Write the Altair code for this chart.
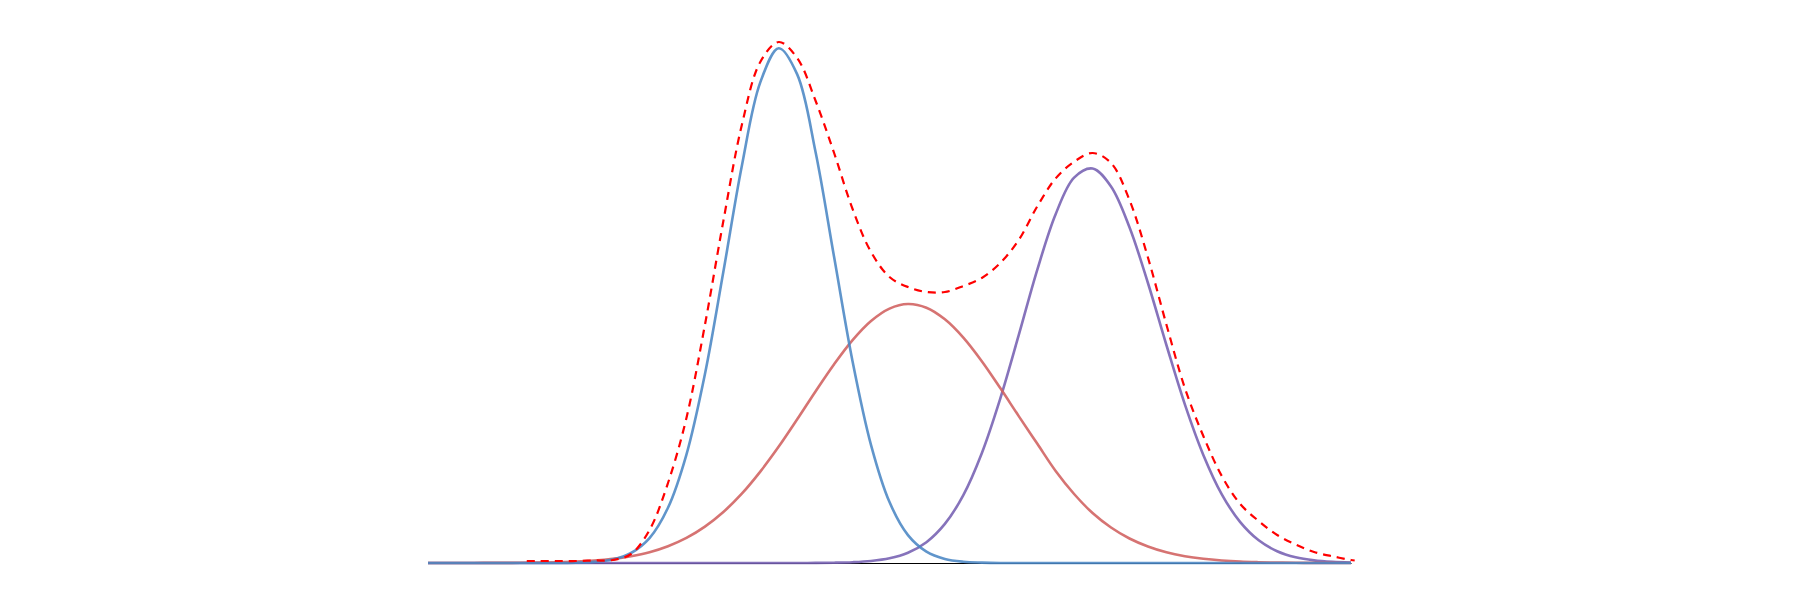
import altair as alt
import pandas as pd

# x positions shared by the three component curves
x_grid = [0.0, 0.2, 0.4, 0.6, 0.8, 1.0, 1.2, 1.4, 1.6, 1.8,
          2.0, 2.2, 2.4, 2.6, 2.8, 3.0, 3.2, 3.4, 3.6, 3.8,
          4.0, 4.2, 4.4, 4.6, 4.8, 5.0, 5.2, 5.4, 5.6, 5.8,
          6.0, 6.2, 6.4, 6.6, 6.8, 7.0, 7.2, 7.4, 7.6, 7.8,
          8.0, 8.2, 8.4, 8.6, 8.8, 9.0, 9.2, 9.4, 9.6, 9.8, 10.0]

blue = [0, 0, 0, 0, 0, 0, 0, 0, 0.003, 0.011,
        0.035, 0.100, 0.249, 0.552, 1.084, 1.887, 2.912, 3.971, 4.806, 5.148,
        4.886, 4.105, 3.059, 2.015, 1.179, 0.609, 0.279, 0.114, 0.041, 0.013,
        0.004, 0, 0, 0, 0, 0, 0, 0, 0, 0,
        0, 0, 0, 0, 0, 0, 0, 0, 0, 0, 0]

red = [0.000, 0.000, 0.000, 0.001, 0.001, 0.002, 0.004, 0.008, 0.014, 0.024,
       0.041, 0.068, 0.108, 0.168, 0.251, 0.364, 0.510, 0.693, 0.914, 1.164,
       1.437, 1.718, 1.988, 2.229, 2.420, 2.544, 2.590, 2.553, 2.437, 2.254,
       2.018, 1.749, 1.469, 1.194, 0.920, 0.690, 0.500, 0.355, 0.245, 0.165,
       0.107, 0.068, 0.042, 0.025, 0.014, 0.008, 0.004, 0.002, 0.001, 0.001, 0.000]

purple = [0, 0, 0, 0, 0, 0, 0, 0, 0, 0,
          0, 0, 0, 0, 0, 0, 0, 0, 0, 0,
          0.000, 0.001, 0.003, 0.008, 0.020, 0.047, 0.103, 0.208, 0.391, 0.679,
          1.098, 1.644, 2.278, 2.929, 3.488, 3.854, 3.945, 3.765, 3.357, 2.800,
          2.180, 1.586, 1.081, 0.687, 0.409, 0.227, 0.118, 0.057, 0.026, 0.011, 0.004]

# dashed overall curve
x_total = [1.07, 1.2, 1.4, 1.6, 1.8,
           2.0, 2.2, 2.4, 2.6, 2.8, 3.0, 3.2, 3.4, 3.6, 3.8,
           4.0, 4.2, 4.4, 4.6, 4.8, 5.0, 5.2, 5.4, 5.6, 5.8,
           6.0, 6.2, 6.4, 6.6, 6.8, 7.0, 7.2, 7.4, 7.6, 7.8,
           8.0, 8.2, 8.4, 8.6, 8.8, 9.0, 9.2, 9.4, 9.6, 9.8, 10.0, 10.04]

total = [0.02, 0.02, 0.02, 0.02, 0.025,
         0.03, 0.09, 0.33, 0.80, 1.45, 2.38, 3.42, 4.38, 5.01, 5.21,
         5.05, 4.62, 4.10, 3.54, 3.11, 2.86, 2.76, 2.71, 2.71, 2.77,
         2.85, 3.00, 3.23, 3.565, 3.846, 4.013, 4.10, 4.00, 3.63, 3.055,
         2.385, 1.75, 1.27, 0.87, 0.59, 0.42, 0.28, 0.185, 0.11, 0.067, 0.03, 0.025]

x_scale = alt.Scale(domain=[0, 10], nice=False, zero=False)
y_scale = alt.Scale(domain=[0, 5.5], nice=False)
x_axis = alt.Axis(labels=False, ticks=False, grid=False, title=None,
                  domainColor="black", domainWidth=1)


def line(xs, ys, color, width, opacity, dash=None):
    df = pd.DataFrame({"x": xs, "y": ys})
    kw = dict(color=color, strokeWidth=width, opacity=opacity, interpolate="catmull-rom")
    if dash is not None:
        kw["strokeDash"] = dash
    return alt.Chart(df).mark_line(**kw).encode(
        x=alt.X("x:Q", scale=x_scale, axis=x_axis),
        y=alt.Y("y:Q", scale=y_scale, axis=None),
    )


chart = alt.layer(
    line(x_grid, purple, "#7560b2", 2.6, 0.88),
    line(x_grid, red, "#d0605f", 2.6, 0.88),
    line(x_grid, blue, "#4a86c4", 2.6, 0.88),
    line(x_total, total, "#ff0000", 2.2, 1.0, dash=[8, 6]),
).properties(
    width=923,
    height=550,
    padding={"left": 414, "top": 5, "right": 5, "bottom": 5},
).configure_view(stroke=None)

chart.save("out.html", embed_options={"renderer": "svg", "actions": False})
